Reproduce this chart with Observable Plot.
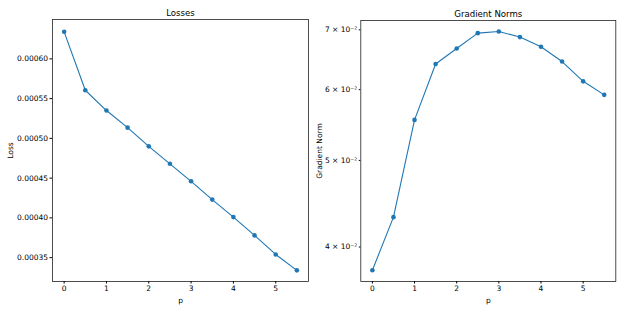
<!DOCTYPE html>
<html><head>
<meta charset="utf-8">
<script src="https://cdn.jsdelivr.net/npm/d3@7"></script>
<script src="https://cdn.jsdelivr.net/npm/@observablehq/plot@0.6"></script>
<style>
body{margin:0;background:#fff;}
#wrap{position:relative;width:623px;height:312px;overflow:hidden;}
#a,#b{position:absolute;top:0;}
#a{left:0}
#b{left:311px}
</style></head><body>
<div id="wrap"><div id="a"></div><div id="b"></div></div>
<script>
const p = [0, 0.5, 1, 1.5, 2, 2.5, 3, 3.5, 4, 4.5, 5, 5.5];
const losses = [0.000634, 0.0005605, 0.000535, 0.0005135, 0.00049, 0.000468, 0.000446, 0.000423, 0.000401, 0.000378, 0.000354, 0.000334];
const gradNorms = [0.03768, 0.0432, 0.0555, 0.0641, 0.0667, 0.0694, 0.0697, 0.0687, 0.0670, 0.0645, 0.0613, 0.0592];
const xTicks = [0, 1, 2, 3, 4, 5];
const lossTicks = [0.00035, 0.0004, 0.00045, 0.0005, 0.00055, 0.0006];
const gradTicks = [0.04, 0.05, 0.06, 0.07];
const gradTickLabels = ["4 × 10⁻²", "5 × 10⁻²", "6 × 10⁻²", "7 × 10⁻²"];
const titles = ["Losses", "Gradient Norms"];

const blue = "#1f77b4";
const style = {fontFamily: "DejaVu Sans", fontSize: "7.5px", color: "#000", background: "#fff"};

const lossData = p.map((v, i) => ({p: v, y: losses[i]}));
const gradData = p.map((v, i) => ({p: v, y: gradNorms[i]}));

const gradLabel = d => {
  let best = 0;
  gradTicks.forEach((t, i) => { if (Math.abs(t - d) < Math.abs(gradTicks[best] - d)) best = i; });
  return gradTickLabels[best];
};

const left = Plot.plot({
  width: 311, height: 312,
  marginLeft: 52, marginRight: 3, marginTop: 19, marginBottom: 31,
  style,
  x: {domain: [-0.275, 5.775]},
  y: {domain: [0.00032, 0.0006495]},
  marks: [
    Plot.frame({stroke: "#222", strokeWidth: 0.8}),
    Plot.axisX({ticks: xTicks, tickSize: 2.5, tickPadding: 2, tickFormat: d => String(d), label: "p", labelAnchor: "center", labelArrow: "none", labelOffset: 21}),
    Plot.axisY({ticks: lossTicks, tickSize: 2.5, tickPadding: 2, tickFormat: d => d.toFixed(5), label: "Loss", labelAnchor: "center", labelArrow: "none", labelOffset: 45}),
    Plot.line(lossData, {x: "p", y: "y", stroke: blue, strokeWidth: 1.1}),
    Plot.dot(lossData, {x: "p", y: "y", fill: blue, r: 2.3}),
    Plot.text([titles[0]], {frameAnchor: "top", lineAnchor: "bottom", dy: -4, text: d => d, fontSize: 8.6})
  ]
});
document.getElementById("a").appendChild(left);

const right = Plot.plot({
  width: 312, height: 312,
  marginLeft: 49.3, marginRight: 7.7, marginTop: 20, marginBottom: 31,
  style,
  x: {domain: [-0.275, 5.775]},
  y: {type: "log", domain: [0.0366, 0.0717]},
  marks: [
    Plot.frame({stroke: "#222", strokeWidth: 0.8}),
    Plot.axisX({ticks: xTicks, tickSize: 2.5, tickPadding: 2, tickFormat: d => String(d), label: "p", labelAnchor: "center", labelArrow: "none", labelOffset: 21}),
    Plot.axisY({ticks: gradTicks, tickSize: 1.5, tickPadding: 2, tickFormat: gradLabel, label: "Gradient Norm", labelAnchor: "center", labelArrow: "none", labelOffset: 44}),
    Plot.line(gradData, {x: "p", y: "y", stroke: blue, strokeWidth: 1.1}),
    Plot.dot(gradData, {x: "p", y: "y", fill: blue, r: 2.3}),
    Plot.text([titles[1]], {frameAnchor: "top", lineAnchor: "bottom", dy: -4, text: d => d, fontSize: 8.6})
  ]
});
document.getElementById("b").appendChild(right);
</script>
</body></html>
